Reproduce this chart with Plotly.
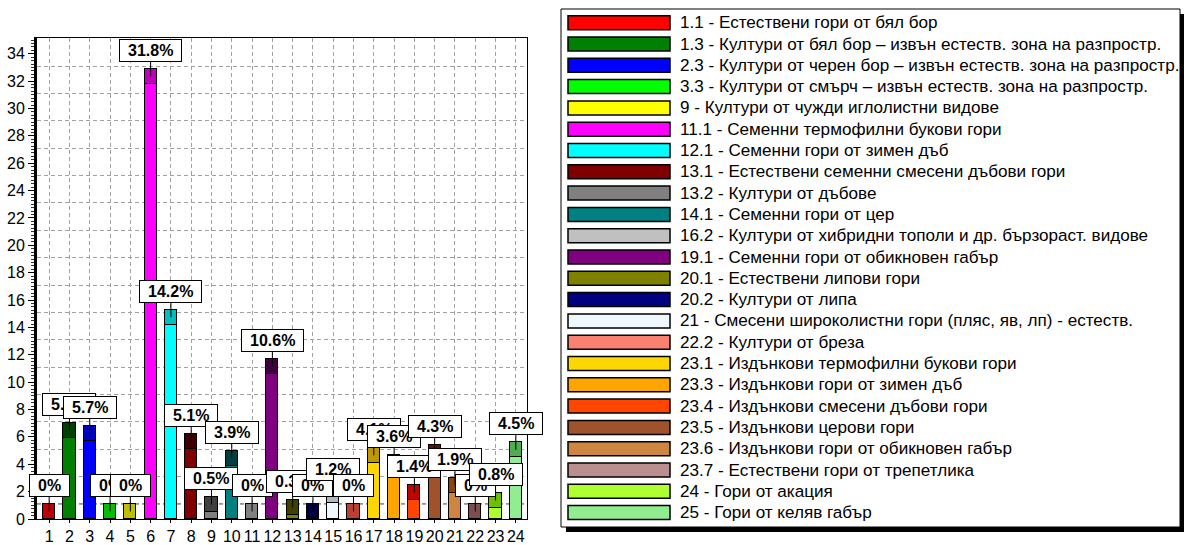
import plotly.graph_objects as go

# ---------------- data ----------------
CATEGORIES = list(range(1, 25))
PCT = [0, 5.9, 5.7, 0, 0, 31.8, 14.2, 5.1, 0.5, 3.9, 0, 10.6,
       0.3, 0, 1.2, 0, 4.1, 3.6, 1.4, 4.3, 1.9, 0, 0.8, 4.5]
LEGEND_LABELS = [
    "1.1 - Естествени гори от бял бор",
    "1.3 - Култури от бял бор – извън естеств. зона на разпростр.",
    "2.3 - Култури от черен бор – извън естеств. зона на разпростр.",
    "3.3 - Култури от смърч – извън естеств. зона на разпростр.",
    "9 - Култури от чужди иглолистни видове",
    "11.1 - Семенни термофилни букови гори",
    "12.1 - Семенни гори от зимен дъб",
    "13.1 - Естествени семенни смесени дъбови гори",
    "13.2 - Култури от дъбове",
    "14.1 - Семенни гори от цер",
    "16.2 - Култури от хибридни тополи и др. бързораст. видове",
    "19.1 - Семенни гори от обикновен габър",
    "20.1 - Естествени липови гори",
    "20.2 - Култури от липа",
    "21 - Смесени широколистни гори (пляс, яв, лп) - естеств.",
    "22.2 - Култури от бреза",
    "23.1 - Издънкови термофилни букови гори",
    "23.3 - Издънкови гори от зимен дъб",
    "23.4 - Издънкови смесени дъбови гори",
    "23.5 - Издънкови церови гори",
    "23.6 - Издънкови гори от обикновен габър",
    "23.7 - Естествени гори от трепетлика",
    "24 - Гори от акация",
    "25 - Гори от келяв габър",
]
COLORS = [
    "#FF0000", "#008000", "#0000FF", "#00FF00", "#FFFF00", "#FF00FF",
    "#00FFFF", "#800000", "#808080", "#008080", "#C0C0C0", "#800080",
    "#808000", "#000080", "#F0F8FF", "#FA8072", "#FFD700", "#FFA500",
    "#FF4500", "#A0522D", "#CD853F", "#BC8F8F", "#ADFF2F", "#90EE90",
]
Y_TICKS = list(range(0, 35, 2))

# ---------------- style ----------------
W, H = 1184, 545
PL, PR, PT, PB = 37, 527, 38, 519       # plot area in pixels
CAP = 1.1                                # height of the darker "top" of each bar
YMAX = 35.15
FONT = "Liberation Sans, Arial, sans-serif"


def darker(hx, d=64):
    r, g, b = (int(hx[i:i + 2], 16) for i in (1, 3, 5))
    return "#%02X%02X%02X" % (max(r - d, 0), max(g - d, 0), max(b - d, 0))


CAP_COLORS = [darker(c) for c in COLORS]

fig = go.Figure()
fig.add_trace(go.Bar(x=CATEGORIES, y=PCT, marker_color=COLORS,
                     marker_line=dict(color="black", width=1), width=0.6,
                     showlegend=False, hoverinfo="skip"))
fig.add_trace(go.Bar(x=CATEGORIES, y=[CAP] * len(CATEGORIES), marker_color=CAP_COLORS,
                     marker_line=dict(color="black", width=1), width=0.6,
                     showlegend=False, hoverinfo="skip"))
# helper trace so the overlay axis (grid / right border) is drawn
fig.add_trace(go.Scatter(x=[None], y=[None], yaxis="y2", showlegend=False, hoverinfo="skip"))

# value labels
BOLD_W = {d: 8.9 for d in "0123456789"}
BOLD_W.update({".": 4.45, "%": 14.2})
for x, v in zip(CATEGORIES, PCT):
    txt = f"{v:g}%"
    tw = sum(BOLD_W.get(ch, 9) for ch in txt)
    fig.add_annotation(x=x, y=v + CAP / 2, xref="x", yref="y",
                       text=f"<b>{txt}</b>", showarrow=True, arrowhead=0,
                       arrowwidth=1, arrowcolor="black", ax=0, ay=-26,
                       font=dict(family=FONT, size=16, color="black"),
                       bgcolor="white", bordercolor="black", borderwidth=1,
                       borderpad=2, width=tw + 12)

# origin (dark dashed) line
fig.add_shape(type="line", xref="x domain", yref="y", x0=0, x1=1, y0=CAP, y1=CAP,
              line=dict(color="#404040", width=1, dash="4px,3px"), layer="below")

# ---------------- legend (drawn manually) ----------------
def px(x):
    return x / W


def py(y):
    return 1 - y / H


LX0, LY0, LX1, LY1 = 561, 9, 1180, 527
fig.add_shape(type="rect", xref="paper", yref="paper",
              x0=px(LX0 + 5), x1=px(LX1 + 6), y0=py(LY1 + 5), y1=py(LY0 + 5),
              fillcolor="black", line=dict(width=0), layer="above")
fig.add_shape(type="rect", xref="paper", yref="paper",
              x0=px(LX0), x1=px(LX1), y0=py(LY1), y1=py(LY0),
              fillcolor="white", line=dict(color="black", width=1), layer="above")
ROW0, ROWH = 22.7, 21.3
for i, (lab, col) in enumerate(zip(LEGEND_LABELS, COLORS)):
    cy = ROW0 + i * ROWH
    fig.add_shape(type="rect", xref="paper", yref="paper",
                  x0=px(568), x1=px(670), y0=py(cy + 7), y1=py(cy - 7),
                  fillcolor=col, line=dict(color="black", width=1.5), layer="above")
    fig.add_annotation(xref="paper", yref="paper", x=px(678), y=py(cy),
                       xanchor="left", yanchor="middle", showarrow=False,
                       text=lab, font=dict(family=FONT, size=17.1, color="black"))

fig.update_layout(
    width=W, height=H, template="none",
    margin=dict(l=0, r=0, t=0, b=0, autoexpand=False),
    paper_bgcolor="white", plot_bgcolor="white",
    barmode="stack", bargap=0,
    font=dict(family=FONT, size=16, color="black"),
    xaxis=dict(domain=[px(PL), px(PR)], range=[0.4, 24.55], tickmode="array",
               tickvals=CATEGORIES, ticktext=[str(c) for c in CATEGORIES],
               showgrid=True, griddash="4px,3px", gridcolor="#A0A0A0", gridwidth=1,
               zeroline=False, showline=True, linecolor="black", linewidth=1,
               mirror=True, ticks="outside", ticklen=3, tickcolor="black",
               automargin=False, tickfont=dict(size=16)),
    yaxis=dict(domain=[py(PB), py(PT)], range=[0, YMAX], tickmode="array",
               tickvals=Y_TICKS, ticktext=[str(t) for t in Y_TICKS],
               showgrid=False, zeroline=False, showline=True, linecolor="black",
               linewidth=3, ticks="outside", ticklen=6, tickcolor="black",
               minor=dict(dtick=0.25, tick0=0, ticks="outside", ticklen=3,
                          tickcolor="#303030", showgrid=False),
               automargin=False, tickfont=dict(size=16)),
    yaxis2=dict(overlaying="y", side="right", range=[0, YMAX], tickmode="array",
                tickvals=[CAP + t for t in Y_TICKS[1:]], showticklabels=False,
                ticks="", showgrid=True, griddash="4px,3px", gridcolor="#A0A0A0",
                gridwidth=1, zeroline=False, showline=True, linecolor="black",
                linewidth=1, automargin=False),
)

fig.write_html("out.html", config={"displayModeBar": False},
               post_script="document.body.style.margin='0px';"
                           "document.body.style.overflow='hidden';")
